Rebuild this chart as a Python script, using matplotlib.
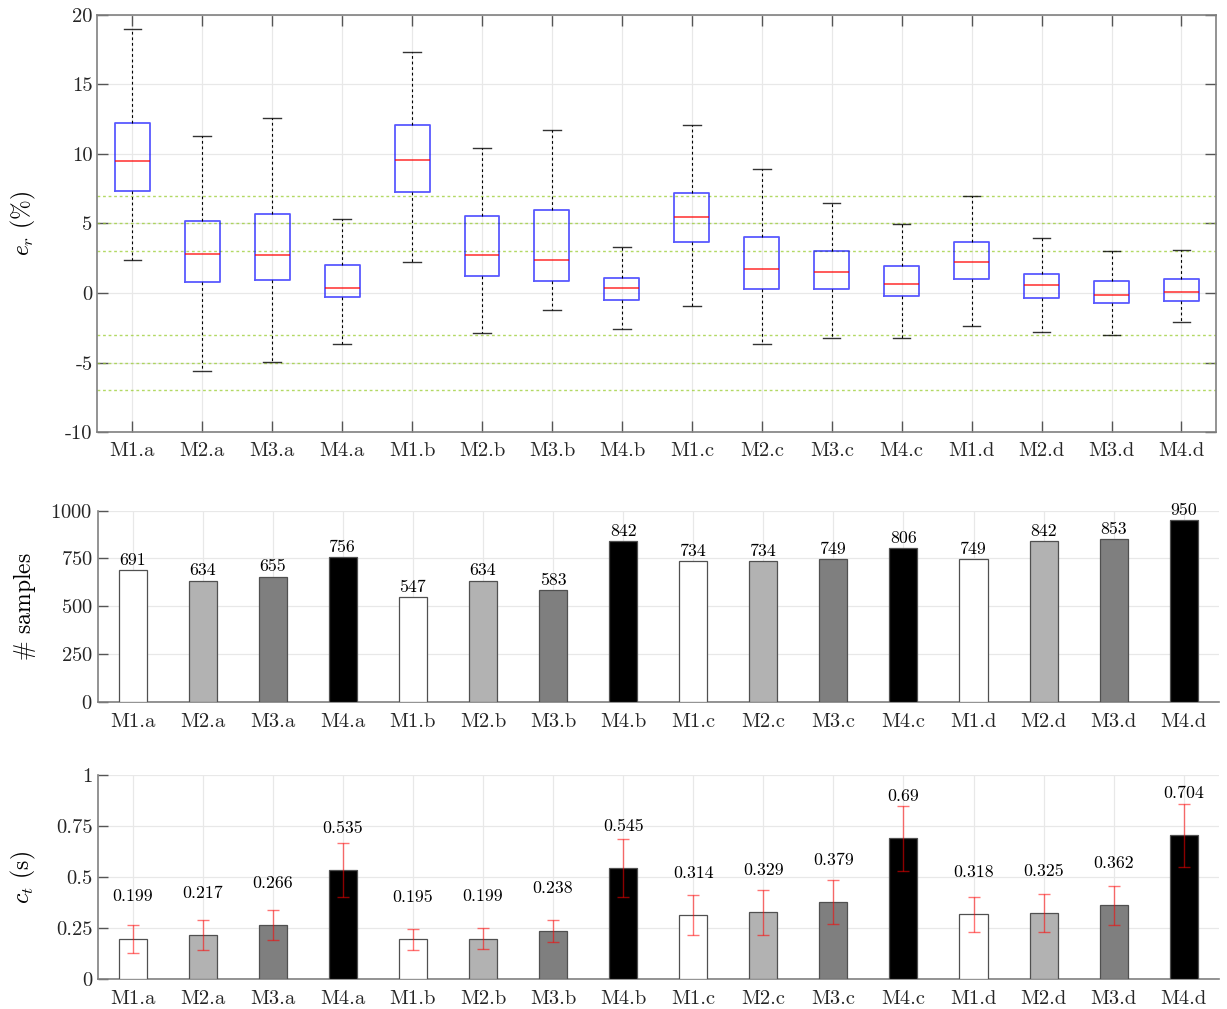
import matplotlib
matplotlib.use('agg')
import matplotlib.pyplot as plt

plt.rcParams['font.family'] = 'serif'
plt.rcParams['font.serif'] = ['cmr10']
plt.rcParams['mathtext.fontset'] = 'cm'
plt.rcParams['axes.formatter.use_mathtext'] = True
plt.rcParams['axes.unicode_minus'] = False

# methods / cases
labels = ['M1.a', 'M2.a', 'M3.a', 'M4.a', 'M1.b', 'M2.b', 'M3.b', 'M4.b',
          'M1.c', 'M2.c', 'M3.c', 'M4.c', 'M1.d', 'M2.d', 'M3.d', 'M4.d']

# relative error e_r (%) box statistics
err_whishi = [19.0, 11.3, 12.6, 5.35, 17.3, 10.45, 11.7, 3.3, 12.1, 8.9, 6.5, 4.95, 6.95, 3.95, 3.0, 3.1]
err_q3 = [12.2, 5.15, 5.65, 2.0, 12.1, 5.55, 5.95, 1.05, 7.2, 4.0, 3.0, 1.95, 3.65, 1.4, 0.85, 1.0]
err_med = [9.45, 2.8, 2.7, 0.35, 9.55, 2.75, 2.35, 0.35, 5.45, 1.75, 1.5, 0.65, 2.25, 0.55, -0.15, 0.1]
err_q1 = [7.35, 0.8, 0.95, -0.3, 7.25, 1.25, 0.85, -0.5, 3.65, 0.3, 0.3, -0.2, 1.0, -0.35, -0.7, -0.55]
err_whislo = [2.35, -5.6, -4.95, -3.65, 2.2, -2.85, -1.2, -2.55, -0.95, -3.65, -3.25, -3.25, -2.4, -2.8, -3.0, -2.1]
ref_levels = [7, 5, 3, -3, -5, -7]

# number of samples
samples = [691, 634, 655, 756, 547, 634, 583, 842, 734, 734, 749, 806, 749, 842, 853, 950]

# computation time c_t (s) with std
ct_mean = [0.199, 0.217, 0.266, 0.535, 0.195, 0.199, 0.238, 0.545,
           0.314, 0.329, 0.379, 0.69, 0.318, 0.325, 0.362, 0.704]
ct_std = [0.068, 0.072, 0.072, 0.13, 0.049, 0.051, 0.054, 0.14,
          0.097, 0.11, 0.108, 0.16, 0.085, 0.095, 0.094, 0.154]

method_colors = ['white', '#b2b2b2', '#7f7f7f', 'black']
bar_colors = [method_colors[i % 4] for i in range(len(labels))]
x = list(range(1, len(labels) + 1))

spine_col = '#808080'
grid_col = '#e8e8e8'
text_col = '#262626'
tick_fs = 14.8
label_fs = 17
value_fs = 12.8

fig = plt.figure(figsize=(12.27, 10.09), dpi=100)
ax1 = fig.add_axes([0.0793, 0.5716, 0.9121, 0.4139])
ax2 = fig.add_axes([0.0795, 0.3046, 0.9138, 0.1893])
ax3 = fig.add_axes([0.0795, 0.0294, 0.9138, 0.2025])

# ---- box plot of relative error ----
stats = []
for i, name in enumerate(labels):
    stats.append({'label': name, 'whislo': err_whislo[i], 'q1': err_q1[i], 'med': err_med[i],
                  'q3': err_q3[i], 'whishi': err_whishi[i]})
ax1.bxp(stats, positions=x, widths=0.5, showfliers=False, patch_artist=False,
        boxprops=dict(color='blue', alpha=0.65, linewidth=1.3),
        medianprops=dict(color='red', alpha=0.7, linewidth=1.3),
        whiskerprops=dict(color='black', linestyle=(0, (2.5, 2.5)), linewidth=0.8),
        capprops=dict(color='black', linewidth=1.0, alpha=0.8), capwidths=0.25)
for lvl in ref_levels:
    ax1.axhline(lvl, color='#9acd32', alpha=0.75, linestyle=(0, (2, 2)), linewidth=1.0, zorder=1)
ax1.set_xlim(0.5, 16.5)
ax1.set_ylim(-10, 20)
ax1.set_yticks([-10, -5, 0, 5, 10, 15, 20])
ax1.set_yticklabels(['-10', '-5', '0', '5', '10', '15', '20'])
ax1.set_ylabel(r'$e_r$ (%)', fontsize=label_fs)
ax1.tick_params(direction='in', top=True, right=True, length=8, width=1.0,
                color='#555555', labelsize=tick_fs, labelcolor=text_col)
ax1.tick_params(axis='x', pad=7)
ax1.grid(True, color=grid_col, linewidth=0.9)
ax1.set_axisbelow(True)
for sp in ax1.spines.values():
    sp.set_color(spine_col)
    sp.set_linewidth(1.2)

# ---- number of samples ----
ax2.bar(x, samples, width=0.4, color=bar_colors, edgecolor='#505050', linewidth=0.9, zorder=3)
for xi, v in zip(x, samples):
    ax2.annotate(str(v), (xi, v), xytext=(0, 1.5), textcoords='offset points',
                 ha='center', va='bottom', fontsize=value_fs, color='black')
ax2.set_ylim(0, 1000)
ax2.set_yticks([0, 250, 500, 750, 1000])
ax2.set_ylabel(r'$\#$ samples', fontsize=label_fs)

# ---- computation time ----
ax3.bar(x, ct_mean, width=0.4, color=bar_colors, edgecolor='#505050', linewidth=0.9, zorder=3)
ax3.errorbar(x, ct_mean, yerr=ct_std, fmt='none', ecolor='red', alpha=0.55,
             elinewidth=1.0, capsize=4, capthick=1.0, zorder=4)
for xi, v in zip(x, ct_mean):
    ax3.text(xi, v + 0.205, f'{v:g}', ha='center', va='center', fontsize=value_fs, color='black')
ax3.set_ylim(0, 1)
ax3.set_yticks([0, 0.25, 0.5, 0.75, 1])
ax3.set_yticklabels(['0', '0.25', '0.5', '0.75', '1'])
ax3.set_ylabel(r'$c_t$ (s)', fontsize=label_fs)

for ax in (ax2, ax3):
    ax.set_xlim(0.5, 16.5)
    ax.grid(True, color=grid_col, linewidth=0.9)
    ax.set_axisbelow(True)
    ax.spines['top'].set_visible(False)
    ax.spines['right'].set_visible(False)
    for side in ('left', 'bottom'):
        ax.spines[side].set_color(spine_col)
        ax.spines[side].set_linewidth(1.2)
    ax.tick_params(axis='y', direction='in', length=7, width=1.0, color='#555555',
                   labelsize=tick_fs, labelcolor=text_col)
    ax.tick_params(axis='x', length=0, labelsize=tick_fs, labelcolor=text_col, pad=8)

for ax in (ax1, ax2, ax3):
    ax.set_xticks(x)
    ax.set_xticklabels(labels)
    ax.yaxis.set_label_coords(-0.053, 0.5)

fig.savefig('out.png', dpi=100)
